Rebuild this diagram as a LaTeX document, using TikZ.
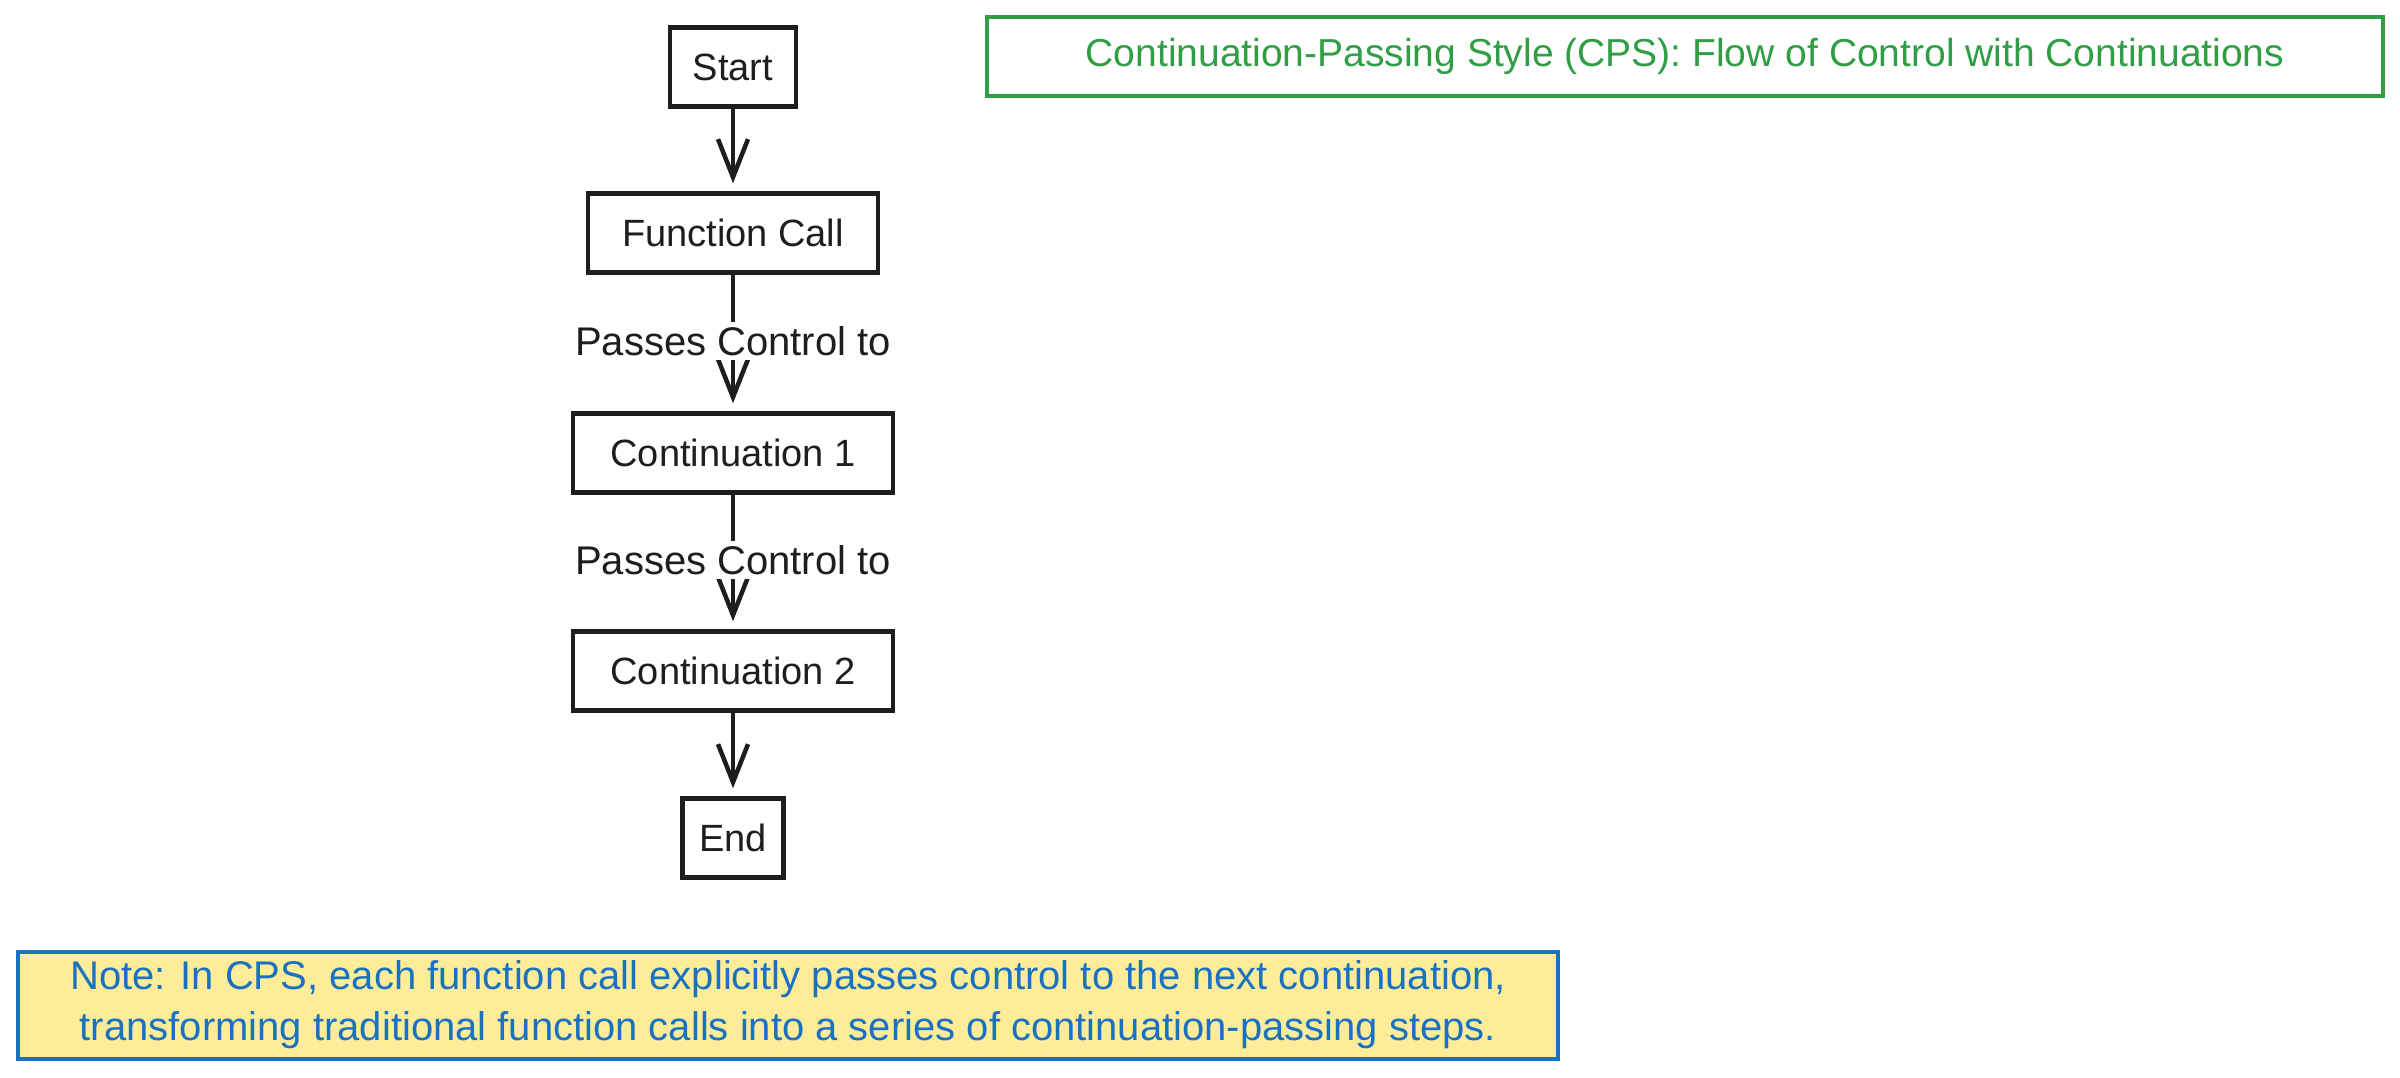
\documentclass[tikz,border=0pt]{standalone}
\usepackage{fontspec}
\setmainfont{Liberation Sans}
\usetikzlibrary{arrows.meta}
\definecolor{ink}{HTML}{1E1E1E}
\definecolor{tgreen}{HTML}{2F9E44}
\definecolor{nblue}{HTML}{1971C2}
\definecolor{nyellow}{HTML}{FFEC99}
\begin{document}
\begin{tikzpicture}[x=1pt,y=-1pt,
  box/.style={draw=ink, line width=4.5pt, minimum height=79pt, inner sep=0pt, text=ink, font=\fontsize{38}{46}\selectfont},
  lbl/.style={fill=white, inner sep=4pt, text=ink, font=\fontsize{40}{46}\selectfont},
  arr/.style={draw=ink, line width=4.5pt, shorten >=8pt, -{Straight Barb[length=38pt,width=30pt]}}]
\useasboundingbox[fill=white] (0,0) rectangle (2400,1077);
\node[box, minimum width=126pt] (start) at (733,67) {Start};
\node[box, minimum width=290pt] (fc) at (733,233) {Function Call};
\node[box, minimum width=320pt] (c1) at (733,453) {Continuation 1};
\node[box, minimum width=320pt] (c2) at (733,671) {Continuation 2};
\node[box, minimum width=101pt] (end) at (733,838) {End};
\draw[arr] (start) -- (fc);
\draw[arr] (fc) -- (c1);
\draw[arr] (c1) -- (c2);
\draw[arr] (c2) -- (end);
\node[lbl] (l1) at (733,341) {Passes Control to};
\node[lbl] (l2) at (733,560) {Passes Control to};
\node[draw=tgreen, line width=4pt, minimum width=1396pt, minimum height=79pt, inner sep=0pt, text=tgreen, font=\fontsize{39}{46}\selectfont] (title) at (1685,56) {Continuation-Passing Style (CPS): Flow of Control with Continuations};
\node[draw=nblue, fill=nyellow, line width=4pt, minimum width=1540pt, minimum height=107pt, inner sep=0pt, text=nblue, align=center, font=\fontsize{40}{51}\selectfont] (note) at (788,1005) {Note: In CPS, each function call explicitly passes control to the next continuation,\\transforming traditional function calls into a series of continuation-passing steps.};
\end{tikzpicture}
\end{document}
